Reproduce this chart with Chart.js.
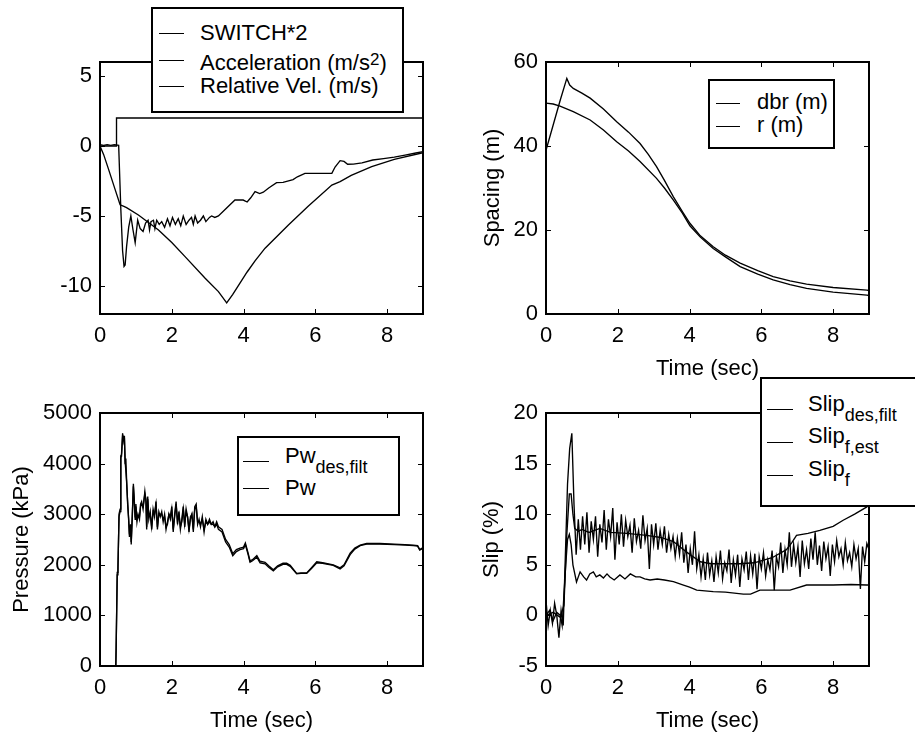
<!DOCTYPE html>
<html>
<head>
<meta charset="utf-8">
<script src="https://cdn.jsdelivr.net/npm/chart.js@4.4.1/dist/chart.umd.min.js"></script>
<style>
  html, body { margin: 0; padding: 0; background: #fff; }
  body { width: 915px; height: 734px; position: relative; overflow: hidden; font-family: "Liberation Sans", Arial, sans-serif; color: #000; }
  canvas { position: absolute; }
  .box { position: absolute; box-sizing: border-box; border: 2px solid #000; background: #fff; }
  .key { position: absolute; height: 0; border-top: 1.3px solid #000; }
  .txt { position: absolute; font-size: 22px; line-height: 26px; white-space: nowrap; }
  .sb { font-size: 18px; position: relative; top: 10px; line-height: 0; }
  .sp { font-size: 17px; position: relative; top: -5px; line-height: 0; }
</style>
</head>
<body>
<canvas id="accChart" width="457" height="382" style="left:0;top:0"></canvas>
<canvas id="spacingChart" width="458" height="382" style="left:457px;top:0"></canvas>
<canvas id="pressureChart" width="457" height="367" style="left:0;top:367px"></canvas>
<canvas id="slipChart" width="458" height="367" style="left:457px;top:367px"></canvas>

<!-- legends -->
<div class="box" style="left:151px;top:7px;width:253px;height:106px"></div>
<div class="key" style="left:159px;top:33px;width:25px"></div>
<div class="key" style="left:159px;top:60px;width:25px"></div>
<div class="key" style="left:159px;top:86px;width:25px"></div>
<div class="txt" style="left:200px;top:20px">SWITCH*2</div>
<div class="txt" style="left:200px;top:50px">Acceleration (m/s<span class="sp">2</span>)</div>
<div class="txt" style="left:200px;top:73px">Relative Vel. (m/s)</div>

<div class="box" style="left:708px;top:79px;width:127px;height:70px"></div>
<div class="key" style="left:716px;top:103px;width:24px"></div>
<div class="key" style="left:716px;top:126px;width:24px"></div>
<div class="txt" style="left:757px;top:89px">dbr (m)</div>
<div class="txt" style="left:757px;top:112px">r (m)</div>

<div class="box" style="left:237px;top:436px;width:163px;height:80px"></div>
<div class="key" style="left:243px;top:461px;width:26px"></div>
<div class="key" style="left:243px;top:488px;width:26px"></div>
<div class="txt" style="left:285px;top:443px">Pw<span class="sb">des,filt</span></div>
<div class="txt" style="left:285px;top:475px">Pw</div>

<div class="box" style="left:760px;top:377px;width:170px;height:130px"></div>
<div class="key" style="left:767px;top:409px;width:26px"></div>
<div class="key" style="left:767px;top:442px;width:26px"></div>
<div class="key" style="left:767px;top:475px;width:26px"></div>
<div class="txt" style="left:808px;top:391px">Slip<span class="sb">des,filt</span></div>
<div class="txt" style="left:808px;top:423px">Slip<span class="sb">f,est</span></div>
<div class="txt" style="left:808px;top:456px">Slip<span class="sb">f</span></div>

<script>
// ---- top left: switch / acceleration / relative velocity ----
const switchT = [0, 0.46, 0.46, 9];
const switchV = [0, 0, 2, 2];

const accT = [0, 0.1, 0.2, 0.3, 0.4, 0.52, 0.58, 0.63, 0.67, 0.7, 0.74, 0.8, 0.86, 0.92, 0.98,
  1.05, 1.12, 1.2, 1.27, 1.34, 1.38, 1.42, 1.49, 1.53, 1.58, 1.65, 1.72, 1.8, 1.88, 1.95,
  2.02, 2.1, 2.18, 2.25, 2.32, 2.4, 2.48, 2.55, 2.6, 2.65, 2.72, 2.8, 2.88, 2.95, 3.05,
  3.11, 3.2, 3.3, 3.5, 3.76, 3.99, 4.1, 4.2, 4.32, 4.45, 4.55, 4.7, 4.92, 5.1, 5.38,
  5.5, 5.71, 6.0, 6.46, 6.55, 6.69, 6.8, 6.9, 7.06, 7.3, 7.6, 7.9, 8.2, 8.5, 8.8, 9];
const accV = [0.1, 0.05, 0.1, 0.05, 0.1, 0.05, -4.5, -7.5, -8.6, -8.5, -7.2, -5.8, -5.0, -6.0, -6.9,
  -5.3, -5.9, -6.1, -5.5, -5.3, -6.0, -5.4, -5.3, -5.9, -5.3, -5.6, -5.4, -5.8, -5.2, -5.7,
  -5.1, -5.6, -5.2, -5.7, -5.0, -5.6, -5.3, -5.1, -5.6, -5.0, -5.5, -5.3, -5.0, -5.4, -5.1,
  -5.0, -5.1, -5.0, -4.5, -3.86, -3.86, -4.0, -3.7, -3.26, -3.4, -3.3, -3.0, -2.62, -2.6, -2.4,
  -2.2, -1.95, -1.95, -1.95, -1.5, -1.05, -1.1, -1.3, -1.29, -1.2, -1.0, -0.9, -0.8, -0.65, -0.5, -0.4];

const relT = [0, 0.1, 0.23, 0.42, 0.56, 0.65, 0.74, 1.07, 1.63, 2.0, 2.37, 2.93, 3.3, 3.53, 3.7,
  3.9, 4.1, 4.32, 4.6, 5.25, 5.8, 6.46, 6.69, 7.0, 7.57, 8.2, 8.96, 9];
const relV = [0, -0.6, -1.6, -3.1, -4.2, -4.3, -4.4, -4.93, -6.0, -6.9, -7.9, -9.45, -10.4, -11.2, -10.6,
  -9.8, -9.0, -8.2, -7.3, -5.64, -4.3, -2.79, -2.55, -2.1, -1.48, -0.95, -0.5, -0.45];

// ---- top right: spacing ----
const dbrT = [0, 0.2, 0.4, 0.58, 0.66, 0.76, 1.0, 1.23, 1.6, 1.97, 2.3, 2.62, 2.85, 3.08, 3.3,
  3.55, 3.8, 4.01, 4.3, 4.66, 5.0, 5.41, 5.9, 6.33, 6.8, 7.26, 8.0, 8.94, 9];
const dbrV = [39, 45, 51, 56.1, 54.5, 53.7, 52.6, 51.4, 48.8, 45.8, 43.3, 40.6, 38.0, 35.1, 31.8,
  27.9, 24.4, 21.6, 18.6, 16.0, 14.0, 12.1, 10.3, 8.9, 7.9, 7.1, 6.3, 5.7, 5.6];
const rT = [0, 0.2, 0.39, 0.76, 1.23, 1.6, 1.97, 2.3, 2.62, 3.08, 3.3, 3.55, 3.8, 4.01, 4.3,
  4.66, 5.0, 5.41, 5.9, 6.33, 6.8, 7.26, 8.0, 8.94, 9];
const rV = [50.2, 50.0, 49.5, 48.2, 46.2, 43.8, 41.0, 38.8, 36.3, 32.3, 30.0, 27.1, 24.0, 21.0, 18.3,
  15.6, 13.6, 11.3, 9.5, 8.1, 7.0, 6.1, 5.2, 4.5, 4.4];

// ---- bottom left: wheel pressure ----
const pwT = [0, 0.44, 0.45, 0.48, 0.5, 0.53, 0.56, 0.58, 0.6, 0.63, 0.66, 0.68, 0.7, 0.72, 0.74,
  0.77, 0.8, 0.82, 0.85, 0.87, 0.9, 0.93, 0.95, 0.98, 1.0, 1.03, 1.06, 1.1, 1.13, 1.16,
  1.2, 1.25, 1.28, 1.3, 1.33, 1.36, 1.4, 1.44, 1.48, 1.52, 1.56, 1.6, 1.64, 1.68, 1.72,
  1.76, 1.8, 1.84, 1.88, 1.92, 1.96, 2.0, 2.04, 2.08, 2.12, 2.16, 2.2, 2.24, 2.28, 2.32,
  2.36, 2.4, 2.44, 2.48, 2.52, 2.56, 2.6, 2.64, 2.68, 2.72, 2.76, 2.8, 2.85, 2.9, 2.95,
  3.0, 3.05, 3.1, 3.15, 3.2, 3.25, 3.3, 3.4, 3.5, 3.6, 3.7, 3.8, 3.9, 4.0, 4.05,
  4.12, 4.18, 4.25, 4.37, 4.46, 4.6, 4.7, 4.83, 4.95, 5.1, 5.2, 5.3, 5.48, 5.6, 5.76,
  5.9, 6.04, 6.2, 6.5, 6.69, 6.8, 6.97, 7.1, 7.25, 7.43, 7.8, 8.2, 8.5, 8.73, 8.85, 8.91, 9];
const pwV = [0, 0, 380, 1800, 1950, 2950, 3050, 4100, 4200, 4600, 4450, 4550, 4000, 4100, 3700,
  3200, 2900, 2550, 2800, 2400, 3000, 3600, 3300, 2900, 3200, 2850, 3000, 2900, 3200, 3250,
  3100, 3450, 3250, 2700, 3350, 2900, 3050, 2700, 3100, 2950, 3250, 2700, 3050, 2950, 3050,
  2850, 3000, 2700, 2850, 3000, 2950, 3150, 2650, 3000, 3250, 2800, 3050, 2700, 2900, 3150,
  2750, 3100, 2950, 2650, 2950, 3000, 2650, 3150, 3200, 2800, 2900, 2750, 2950, 2650, 2900,
  2800, 2900, 2800, 2850, 2750, 2850, 2750, 2700, 2500, 2400, 2220, 2300, 2330, 2350, 2430,
  2250, 2080, 2100, 2180, 2070, 2050, 1980, 1900, 1980, 2030, 2030, 1990, 1830, 1840, 1840,
  1950, 2060, 2040, 2000, 1940, 2000, 2230, 2330, 2390, 2420, 2420, 2410, 2400, 2390, 2380, 2300, 2340];
const pwDesV = [0, 0, 350, 1850, 1900, 3000, 3100, 4150, 4150, 4550, 4500, 4500, 4050, 4050, 3650,
  3250, 2850, 2600, 2750, 2450, 2950, 3550, 3350, 2950, 3150, 2900, 2950, 2950, 3150, 3200,
  3150, 3400, 3300, 2750, 3300, 2950, 3000, 2750, 3050, 3000, 3200, 2750, 3000, 3000, 3000,
  2900, 2950, 2750, 2800, 3000, 2900, 3100, 2700, 2950, 3200, 2850, 3000, 2750, 2850, 3100,
  2800, 3050, 2950, 2700, 2900, 3000, 2700, 3100, 3150, 2850, 2850, 2800, 2900, 2700, 2850,
  2800, 2850, 2800, 2800, 2750, 2800, 2700, 2650, 2450, 2350, 2180, 2260, 2300, 2320, 2400,
  2220, 2050, 2080, 2150, 2040, 2020, 1950, 1880, 1960, 2010, 2010, 1970, 1820, 1830, 1830,
  1930, 2040, 2030, 1990, 1920, 1980, 2200, 2310, 2380, 2410, 2410, 2400, 2390, 2380, 2370, 2290, 2330];

// ---- bottom right: slip ----
const slipDesT = [0, 0.1, 0.2, 0.3, 0.4, 0.45, 0.5, 0.55, 0.6, 0.65, 0.7, 0.75, 0.85, 0.95, 1.05,
  1.13, 1.22, 1.32, 1.4, 1.5, 1.6, 1.7, 1.78, 1.9, 2.06, 2.2, 2.35, 2.5, 2.62, 2.75,
  2.9, 3.1, 3.3, 3.55, 3.83, 4.0, 4.2, 4.66, 5.0, 5.5, 5.7, 5.96, 6.4, 6.8, 7.26, 8.0, 8.5, 8.93, 9];
const slipDesV = [0, 0.5, -0.5, 0.3, 0, -1, 2, 5, 7.5, 8, 7, 5, 3.3, 4.3, 3.8,
  3.5, 4.1, 4.3, 3.8, 4.0, 3.7, 4.1, 3.8, 3.5, 4.0, 3.6, 4.1, 3.8, 3.8, 3.6,
  3.5, 3.6, 3.5, 3.33, 3.0, 2.8, 2.5, 2.35, 2.3, 2.1, 2.1, 2.5, 2.5, 2.5, 3.0, 3.0, 3.05, 3.0, 3.0];

const slipEstT = [0, 0.2, 0.4, 0.5, 0.58, 0.65, 0.7, 0.75, 0.8, 0.9, 1.0, 1.2, 1.5, 1.8, 2.25,
  2.8, 3.2, 3.55, 3.9, 4.3, 4.6, 5.0, 5.4, 5.8, 6.3, 6.7, 6.85, 6.98, 7.3, 7.63, 8.0, 8.28, 8.6, 8.93, 9];
const slipEstV = [0, 0.3, -0.2, 1, 8, 12, 12, 10, 8.6, 8.3, 8.5, 8.2, 8.6, 8.2, 8.1,
  7.9, 7.7, 7.3, 6.3, 5.3, 5.1, 5.1, 5.1, 5.2, 5.7, 6.5, 7.2, 7.9, 8.1, 8.4, 8.8, 9.4, 10.0, 10.7, 10.9];

// measured slip, sampled every 0.06 s
const slipFStep = 0.06;
const slipFV = [1.5, -1, 0.5, -0.8, 1.2, 0, -2.2, 0.5, -1.0, 6, 13, 16.5, 18, 11, 6, 9.5,
  6.5, 9.8, 7.0, 10.2, 6.2, 9.3, 7.5, 9.8, 5.8, 9.0, 7.2, 10.4, 6.5, 9.5, 7.8, 10.6, 5.5, 9.2, 7.0, 10.0,
  6.8, 9.4, 7.8, 8.9, 6.2, 9.6, 7.3, 8.4, 6.6, 9.9, 7.4, 8.6, 4.6, 9.0, 7.0,
  9.1, 6.5, 8.4, 7.0, 8.8, 6.2, 8.0, 6.6, 7.8, 5.8, 7.6, 6.0, 8.2, 5.2, 7.0, 4.2, 6.6, 5.0, 8.3, 4.6,
  6.0, 3.8, 5.6, 3.5, 6.2, 4.0, 5.4, 3.3, 5.8, 4.2, 6.4, 3.6, 5.2, 4.4, 6.5, 3.2, 5.5, 4.0, 6.0, 2.8,
  5.6, 4.5, 6.3, 3.5, 5.9, 4.1, 6.1, 2.6, 5.8, 4.6,
  6.2, 3.9, 5.5, 4.5, 6.4, 2.5, 5.8, 4.8, 7.2, 4.2, 6.5, 5.0, 8.2, 4.8, 7.0, 5.2, 6.8, 3.8, 7.4, 5.1,
  6.5, 4.6, 7.6, 5.5, 8.2, 5.0, 6.9, 4.4, 7.3, 5.6, 6.8, 3.9, 7.0, 5.3, 7.4, 5.8, 6.6, 5.0, 7.2, 5.4,
  6.2, 4.8, 7.0, 5.6, 6.6, 2.6, 6.8, 5.3, 7.1, 6.5];

// ---- axis ticks ----
const timeTicks = [0, 2, 4, 6, 8];
const accTicks = [-10, -5, 0, 5];
const spacingTicks = [0, 20, 40, 60];
const pressureTicks = [0, 1000, 2000, 3000, 4000, 5000];
const slipTicks = [-5, 0, 5, 10, 15, 20];

Chart.defaults.font.family = '"Liberation Sans", Arial, sans-serif';
Chart.defaults.font.size = 22;
Chart.defaults.color = '#000';

function pts(ts, vs) {
  return ts.map((t, i) => ({ x: t, y: vs[i] }));
}

// frame around the plot with inward ticks on all four sides
const boxTicks = {
  id: 'boxTicks',
  afterDraw(chart) {
    const { ctx, chartArea: a, scales: { x, y } } = chart;
    ctx.save();
    ctx.strokeStyle = '#000';
    ctx.lineWidth = 1;
    ctx.beginPath();
    x.ticks.forEach(t => {
      const px = Math.round(x.getPixelForValue(t.value)) + 0.5;
      ctx.moveTo(px, a.bottom); ctx.lineTo(px, a.bottom - 5);
      ctx.moveTo(px, a.top); ctx.lineTo(px, a.top + 5);
    });
    y.ticks.forEach(t => {
      const py = Math.round(y.getPixelForValue(t.value)) + 0.5;
      ctx.moveTo(a.left, py); ctx.lineTo(a.left + 5, py);
      ctx.moveTo(a.right, py); ctx.lineTo(a.right - 5, py);
    });
    ctx.stroke();
    ctx.lineWidth = 2;
    ctx.strokeRect(a.left, a.top, a.right - a.left, a.bottom - a.top);
    ctx.restore();
  }
};

function makePlot(id, o) {
  return new Chart(document.getElementById(id), {
    type: 'line',
    data: {
      datasets: o.series.map(s => ({
        data: s, borderColor: '#000', borderWidth: 1.35, pointRadius: 0, tension: 0, fill: false
      }))
    },
    options: {
      responsive: false,
      animation: false,
      devicePixelRatio: 1,
      layout: { padding: { top: o.top, right: o.right, left: 0, bottom: 0 } },
      plugins: { legend: { display: false }, tooltip: { enabled: false } },
      scales: {
        x: {
          type: 'linear', min: 0, max: 9,
          afterBuildTicks: s => { s.ticks = timeTicks.map(v => ({ value: v })); },
          afterFit: s => { s.height = o.xh; },
          grid: { display: false, drawTicks: false },
          border: { display: false },
          ticks: { padding: 9, maxRotation: 0, autoSkip: false, callback: v => String(v) },
          title: { display: !!o.xTitle, text: o.xTitle || '', padding: { top: 4, bottom: 0 } }
        },
        y: {
          type: 'linear', min: o.yMin, max: o.yMax,
          afterBuildTicks: s => { s.ticks = o.yTicks.map(v => ({ value: v })); },
          afterFit: s => { s.width = o.yw; },
          grid: { display: false, drawTicks: false },
          border: { display: false },
          ticks: { padding: 8, autoSkip: false, callback: v => String(v) },
          title: { display: !!o.yTitle, text: o.yTitle || '', padding: { top: o.yPad || 0, bottom: 0 } }
        }
      }
    },
    plugins: [boxTicks]
  });
}

makePlot('accChart', {
  series: [pts(switchT, switchV), pts(accT, accV), pts(relT, relV)],
  top: 62, right: 34, xh: 68, yw: 100,
  yMin: -12, yMax: 6, yTicks: accTicks
});

makePlot('spacingChart', {
  series: [pts(dbrT, dbrV), pts(rT, rV)],
  top: 62, right: 46, xh: 68, yw: 89,
  yMin: 0, yMax: 60, yTicks: spacingTicks,
  xTitle: 'Time (sec)', yTitle: 'Spacing (m)', yPad: 23
});

makePlot('pressureChart', {
  series: [pts(pwT, pwDesV), pts(pwT, pwV)],
  top: 46, right: 34, xh: 68, yw: 100,
  yMin: 0, yMax: 5000, yTicks: pressureTicks,
  xTitle: 'Time (sec)', yTitle: 'Pressure (kPa)', yPad: 9
});

makePlot('slipChart', {
  series: [pts(slipDesT, slipDesV), pts(slipEstT, slipEstV), slipFV.map((v, i) => ({ x: i * slipFStep, y: v }))],
  top: 46, right: 46, xh: 68, yw: 89,
  yMin: -5, yMax: 20, yTicks: slipTicks,
  xTitle: 'Time (sec)', yTitle: 'Slip (%)', yPad: 22
});
</script>
</body>
</html>
